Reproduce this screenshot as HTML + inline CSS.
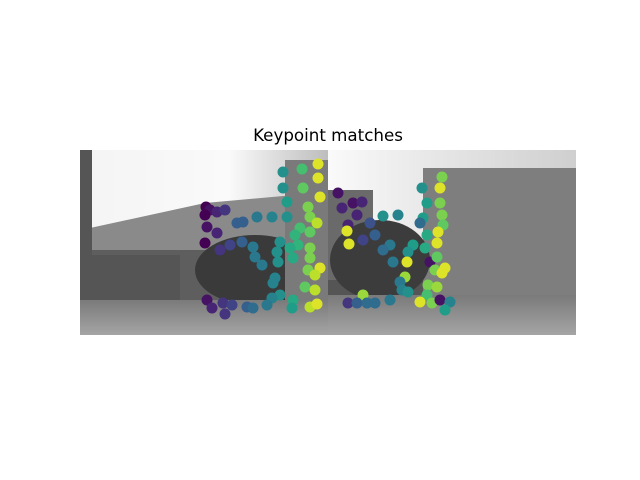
<!DOCTYPE html>
<html><head><meta charset="utf-8"><style>
html,body{margin:0;padding:0;background:#fff;width:640px;height:480px;overflow:hidden}
</style></head><body>
<svg id="chart" width="640" height="480" xmlns="http://www.w3.org/2000/svg">
<defs>
<linearGradient id="skyL" x1="0" y1="0" x2="1" y2="0"><stop offset="0" stop-color="#f4f4f4"/><stop offset="0.6" stop-color="#fafafa"/><stop offset="1" stop-color="#bdbdbd"/></linearGradient>
<linearGradient id="skyR" x1="0" y1="0" x2="1" y2="0"><stop offset="0" stop-color="#fafafa"/><stop offset="0.4" stop-color="#e8e8e8"/><stop offset="1" stop-color="#cfcfcf"/></linearGradient>
<linearGradient id="ground" x1="0" y1="0" x2="0" y2="1"><stop offset="0" stop-color="#7a7a7a"/><stop offset="1" stop-color="#a5a5a5"/></linearGradient>
</defs>
<text x="328" y="141" text-anchor="middle" font-family="DejaVu Sans, Liberation Sans, sans-serif" font-size="16.7" fill="#000">Keypoint matches</text>
<g>
<rect x="80" y="150" width="248" height="185" fill="url(#skyL)"/>
<polygon points="90,250 90,228 205,203 328,192 328,265 90,265" fill="#8a8a8a"/>
<rect x="80" y="250" width="248" height="55" fill="#5e5e5e"/>
<rect x="80" y="255" width="100" height="50" fill="#555"/>
<ellipse cx="255" cy="270" rx="60" ry="35" fill="#3a3a3a"/>
<rect x="285" y="160" width="43" height="140" fill="#7a7a7a"/>
<rect x="80" y="150" width="12" height="120" fill="#555"/>
<rect x="80" y="300" width="248" height="35" fill="url(#ground)"/>
</g>
<g>
<rect x="328" y="150" width="248" height="185" fill="url(#skyR)"/>
<rect x="328" y="250" width="100" height="50" fill="#555"/>
<rect x="423" y="168" width="153" height="127" fill="#7e7e7e"/>
<rect x="328" y="190" width="45" height="90" fill="#6a6a6a"/>
<ellipse cx="380" cy="260" rx="50" ry="40" fill="#3c3c3c"/>
<rect x="328" y="295" width="248" height="40" fill="url(#ground)"/>
</g>
<g id="dots"></g>
</svg>
<script>
const xs=[206,210,205,217,225,207,217,205,220,230,237,243,242,257,272,287,283,283,287,302,303,318,318,320,308,310,317,300,310,295,298,280,290,253,255,262,277,278,293,310,310,308,320,315,275,273,305,315,280,272,293,292,310,317,207,212,223,232,225,247,253,267,
338,342,353,362,357,348,347,349,363,370,375,383,398,422,427,423,420,442,440,440,442,443,438,437,427,425,413,408,390,383,393,407,430,437,435,445,442,405,400,402,408,428,437,427,420,432,440,450,445,363,348,357,367,375,390];
const ys=[207,210,215,212,210,227,233,243,250,245,223,222,242,217,217,217,172,188,202,169,188,164,178,197,207,217,223,228,232,235,245,242,248,247,257,265,252,262,258,248,258,270,268,275,278,283,287,290,295,298,300,308,307,304,300,308,303,305,314,307,308,305,
193,208,203,202,215,225,231,244,240,223,235,216,215,188,203,218,223,177,188,203,215,225,232,243,235,248,245,252,245,250,262,262,262,257,270,268,273,277,282,290,292,285,287,295,302,303,300,302,310,295,303,303,303,303,300];
const vals=[0,0.05,0,0.1,0.15,0.05,0.1,0,0.15,0.2,0.3,0.3,0.3,0.4,0.45,0.5,0.5,0.5,0.55,0.7,0.75,0.95,0.95,0.95,0.8,0.8,0.9,0.7,0.75,0.65,0.65,0.5,0.6,0.4,0.4,0.4,0.5,0.5,0.6,0.8,0.8,0.8,0.95,0.9,0.45,0.45,0.75,0.9,0.5,0.45,0.6,0.55,0.9,0.95,0.05,0.1,0.15,0.2,0.15,0.3,0.35,0.4,
0.05,0.1,0.05,0.1,0.1,0.1,0.95,0.95,0.2,0.25,0.3,0.5,0.45,0.5,0.55,0.55,0.35,0.8,0.95,0.8,0.8,0.75,0.95,0.95,0.6,0.6,0.55,0.5,0.4,0.35,0.4,0.95,0.05,0.75,0.8,0.95,0.95,0.85,0.4,0.45,0.5,0.8,0.85,0.7,0.95,0.8,0.05,0.45,0.55,0.85,0.15,0.3,0.35,0.35,0.4];
const stops=[[68,1,84],[72,40,120],[62,74,137],[49,104,142],[38,130,142],[31,158,137],[53,183,121],[109,205,89],[180,222,44],[253,231,37]];
function viridis(t){t=Math.max(0,Math.min(1,t))*9;const i=Math.min(8,Math.floor(t)),f=t-i;const a=stops[i],b=stops[i+1];
return 'rgb('+a.map((c,k)=>Math.round(c+(b[k]-c)*f)).join(',')+')';}
const g=document.getElementById('dots');
for(let i=0;i<xs.length;i++){
const c=document.createElementNS('http://www.w3.org/2000/svg','circle');
c.setAttribute('cx',xs[i]);c.setAttribute('cy',ys[i]);c.setAttribute('r',5.5);
c.setAttribute('fill',viridis(vals[i]));


g.appendChild(c);}
</script>
</body></html>
